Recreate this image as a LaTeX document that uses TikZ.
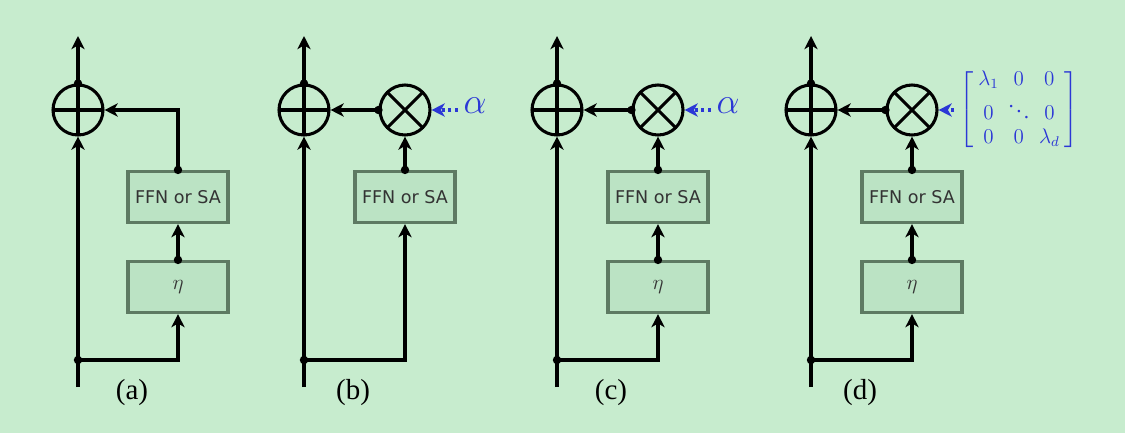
\documentclass[tikz,border=0pt]{standalone}
\usepackage{amsmath}
\usepackage{fontspec}
\setmainfont{Liberation Serif}
\newfontfamily\boxfont{DejaVu Sans}
\usepackage{tikz}
\usetikzlibrary{arrows.meta,calc,positioning}
\definecolor{bgcol}{RGB}{199,236,206}
\definecolor{boxfill}{RGB}{187,227,196}
\definecolor{boxline}{RGB}{94,122,99}
\definecolor{boxtext}{RGB}{51,51,51}
\definecolor{scalecol}{RGB}{43,55,214}
\tikzset{%
	arrow/.style    = {line width=1.75pt, -{Stealth[length=7.5pt,width=7.5pt,inset=2.2pt]}},
	dotarrow/.style = {line width=1.75pt, scalecol, dash pattern=on 1.8pt off 1.9pt, -{Stealth[length=7.5pt,width=7.5pt,inset=2.2pt]}},
	block/.style    = {draw=boxline, fill=boxfill, line width=1.8pt, rectangle, minimum width=2cm, minimum height=1.02cm, text=boxtext, font=\boxfont\fontsize{10}{12}\selectfont},
	adder/.style    = {draw, circle, line width=1.75pt, minimum size=1cm, inner sep=0pt,
		path picture={\draw[line width=1.75pt] (path picture bounding box.north) -- (path picture bounding box.south) (path picture bounding box.west) -- (path picture bounding box.east);}},
	mult/.style     = {draw, circle, line width=1.75pt, minimum size=1cm, inner sep=0pt,
		path picture={\draw[line width=1.75pt] (path picture bounding box.north west) -- (path picture bounding box.south east) (path picture bounding box.north east) -- (path picture bounding box.south west);}},
	junction/.style = {circle, fill, inner sep=0pt, minimum size=4.8pt},
	caption/.style  = {font=\fontsize{16.5}{18}\selectfont},
	scaling/.style  = {text=scalecol},
	norm/.style     = {block, font=\fontsize{12}{14}\selectfont},
}
\begin{document}
\begin{tikzpicture}[x=0.02cm,y=-0.02cm]
	\useasboundingbox[fill=bgcol] (0,0) rectangle (1125,433);
	% (a) plain residual
	\node[adder] (add-a) at (78,110) {};
	\node[block] (ffn-a) at (178,197) {FFN or SA};
	\node[norm] (eta-a) at (178,287) {$\eta$};
	\coordinate (in-a) at (78,387);
	\coordinate (out-a) at (78,36);
	\coordinate (split-a) at (78,360);
	\draw[arrow] (in-a) -- (add-a.south);
	\draw[arrow] (add-a.north) -- (out-a);
	\draw[arrow] (split-a) -| (eta-a.south);
	\draw[arrow] (eta-a.north) -- (ffn-a.south);
	\draw[arrow] (ffn-a.north) |- (add-a.east);
	\node[junction] at (add-a.north) {};
	\node[junction] at (split-a) {};
	\node[junction] at (eta-a.north) {};
	\node[junction] at (ffn-a.north) {};
	\node[caption] (cap-a) at (132,393) {(a)};
	% (b) scalar, no norm
	\node[adder] (add-b) at (304,110) {};
	\node[mult] (mul-b) at (405,110) {};
	\node[block] (ffn-b) at (405,197) {FFN or SA};
	\node[scaling, font=\fontsize{20.74}{24}\selectfont, inner sep=3pt] (alpha-b) at (475,106) {$\alpha$};
	\coordinate (in-b) at (304,387);
	\coordinate (out-b) at (304,36);
	\coordinate (split-b) at (304,360);
	\draw[arrow] (in-b) -- (add-b.south);
	\draw[arrow] (add-b.north) -- (out-b);
	\draw[arrow] (split-b) -| (ffn-b.south);
	\draw[arrow] (ffn-b.north) -- (mul-b.south);
	\draw[arrow] (mul-b.west) -- (add-b.east);
	\draw[dotarrow] (alpha-b.west |- mul-b.east) -- (mul-b.east);
	\node[junction] at (add-b.north) {};
	\node[junction] at (split-b) {};
	\node[junction] at (ffn-b.north) {};
	\node[junction] at (mul-b.west) {};
	\node[caption] (cap-b) at (353,393) {(b)};
	% (c) scalar with eta
	\node[adder] (add-c) at (557,110) {};
	\node[mult] (mul-c) at (658,110) {};
	\node[block] (ffn-c) at (658,197) {FFN or SA};
	\node[norm] (eta-c) at (658,287) {$\eta$};
	\node[scaling, font=\fontsize{20.74}{24}\selectfont, inner sep=3pt] (alpha-c) at (728,106) {$\alpha$};
	\coordinate (in-c) at (557,387);
	\coordinate (out-c) at (557,36);
	\coordinate (split-c) at (557,360);
	\draw[arrow] (in-c) -- (add-c.south);
	\draw[arrow] (add-c.north) -- (out-c);
	\draw[arrow] (split-c) -| (eta-c.south);
	\draw[arrow] (eta-c.north) -- (ffn-c.south);
	\draw[arrow] (ffn-c.north) -- (mul-c.south);
	\draw[arrow] (mul-c.west) -- (add-c.east);
	\draw[dotarrow] (alpha-c.west |- mul-c.east) -- (mul-c.east);
	\node[junction] at (add-c.north) {};
	\node[junction] at (split-c) {};
	\node[junction] at (eta-c.north) {};
	\node[junction] at (ffn-c.north) {};
	\node[junction] at (mul-c.west) {};
	\node[caption] (cap-c) at (611,393) {(c)};
	% (d) diagonal matrix with eta
	\node[adder] (add-d) at (811,110) {};
	\node[mult] (mul-d) at (912,110) {};
	\node[block] (ffn-d) at (912,197) {FFN or SA};
	\node[norm] (eta-d) at (912,287) {$\eta$};
	\node[scaling, font=\fontsize{12}{13}\selectfont, inner sep=3pt] (lam-d) at (1019,110)
		{$\renewcommand{\arraystretch}{1.05}\setlength{\arraycolsep}{2.5pt}\left[\begin{array}{ccc} \lambda_1 & 0 & 0\\ 0 & \ddots & 0\\ 0 & 0 & \lambda_d \end{array}\right]$};
	\coordinate (in-d) at (811,387);
	\coordinate (out-d) at (811,36);
	\coordinate (split-d) at (811,360);
	\draw[arrow] (in-d) -- (add-d.south);
	\draw[arrow] (add-d.north) -- (out-d);
	\draw[arrow] (split-d) -| (eta-d.south);
	\draw[arrow] (eta-d.north) -- (ffn-d.south);
	\draw[arrow] (ffn-d.north) -- (mul-d.south);
	\draw[arrow] (mul-d.west) -- (add-d.east);
	\draw[dotarrow] (lam-d.west) -- (mul-d.east);
	\node[junction] at (add-d.north) {};
	\node[junction] at (split-d) {};
	\node[junction] at (eta-d.north) {};
	\node[junction] at (ffn-d.north) {};
	\node[junction] at (mul-d.west) {};
	\node[caption] (cap-d) at (860,393) {(d)};
\end{tikzpicture}
\end{document}
